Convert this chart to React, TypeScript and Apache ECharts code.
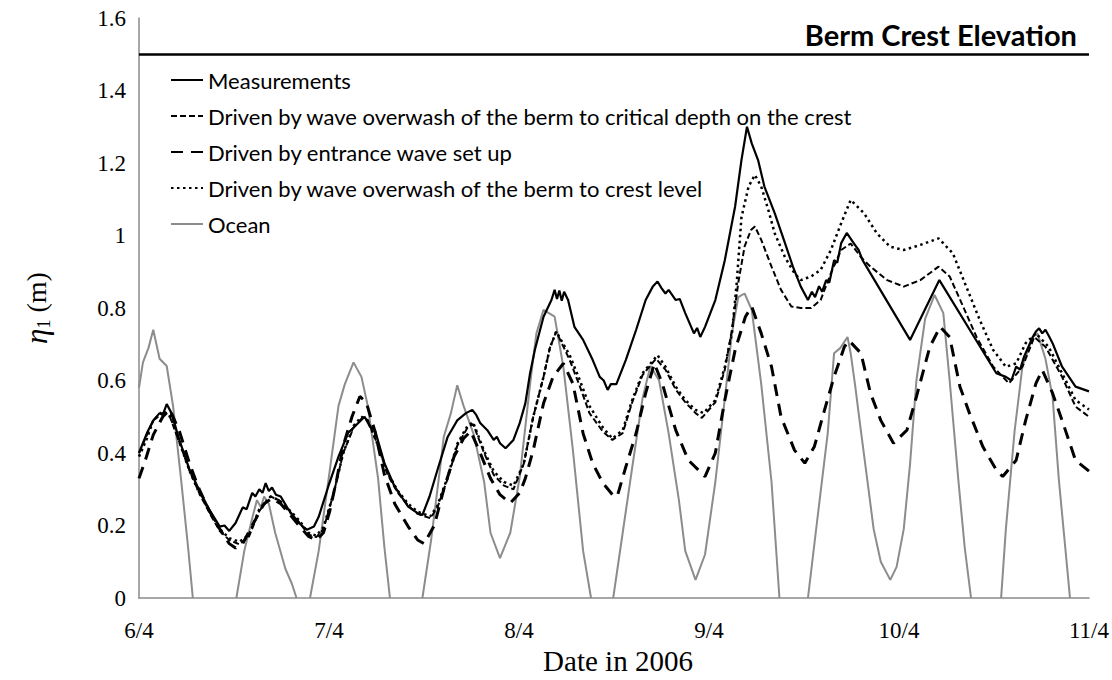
import React, { useEffect, useRef } from "react";
import * as echarts from "echarts";

// x values are hours from 6/4 00:00 (2006)
const dayLabels = ["6/4", "7/4", "8/4", "9/4", "10/4", "11/4"];
const yTicks = [0, 0.2, 0.4, 0.6, 0.8, 1, 1.2, 1.4, 1.6];
const bermCrest = 1.5;

const seriesNames = [
  "Measurements",
  "Driven by wave overwash of the berm to critical depth on the crest",
  "Driven by entrance wave set up",
  "Driven by wave overwash of the berm to crest level",
  "Ocean",
];

const measured = [
  [0, 0.4], [1.0, 0.455], [1.8, 0.49], [2.6, 0.51], [3.0, 0.505], [3.5, 0.535], [4.1, 0.51], [5.1, 0.436], [6.4, 0.353],
  [7.6, 0.298], [8.9, 0.243], [10.2, 0.197], [10.8, 0.2], [11.4, 0.185], [12.2, 0.207], [13.1, 0.25], [13.6, 0.245], [14.3, 0.29],
  [14.7, 0.28], [15.2, 0.3], [15.6, 0.29], [16.0, 0.317], [16.4, 0.295], [16.8, 0.305], [17.3, 0.285], [17.9, 0.28], [18.9, 0.243], [20.2, 0.207], [21.2, 0.188],
  [22.1, 0.197], [22.7, 0.224], [23.9, 0.307], [25.2, 0.39], [26.4, 0.455], [27.7, 0.483], [28.5, 0.5],
  [29.2, 0.472], [29.8, 0.463], [31.0, 0.372], [32.3, 0.307], [34.0, 0.252], [35.2, 0.234], [35.8, 0.229],
  [36.7, 0.28], [37.7, 0.353], [39.0, 0.445], [40.2, 0.49], [41.3, 0.51], [42.1, 0.519], [42.6, 0.505], [43.1, 0.483],
  [44.0, 0.463], [44.8, 0.436], [45.2, 0.445], [45.6, 0.427], [46.3, 0.413], [47.3, 0.436], [48.1, 0.483], [48.8, 0.537],
  [49.4, 0.62], [50.0, 0.684], [51.1, 0.776], [52.1, 0.822], [52.5, 0.85], [52.8, 0.825], [53.1, 0.848], [53.4, 0.82],
  [53.7, 0.845], [54.2, 0.822], [55.0, 0.748], [56.1, 0.712], [57.3, 0.657], [58.2, 0.61], [58.7, 0.6], [59.2, 0.574],
  [59.6, 0.59], [60.3, 0.59], [61.5, 0.657], [62.8, 0.74], [64.0, 0.822], [64.9, 0.859], [65.5, 0.873], [66.0, 0.855],
  [66.5, 0.84], [66.9, 0.85], [67.8, 0.822], [68.3, 0.825], [69.0, 0.786], [70.1, 0.73], [70.5, 0.745], [70.9, 0.72], [71.5, 0.748],
  [72.8, 0.822], [74.0, 0.932], [75.3, 1.08], [76.1, 1.208], [76.8, 1.3], [77.4, 1.254], [78.2, 1.208], [79.0, 1.135],
  [80.3, 1.062], [81.6, 0.979], [82.6, 0.914], [83.6, 0.859], [84.5, 0.822], [85.0, 0.845], [85.4, 0.83], [85.9, 0.86],
  [86.3, 0.845], [86.8, 0.877], [87.2, 0.87], [87.8, 0.932], [88.2, 0.925], [88.7, 0.979], [89.4, 1.007],
  [90.3, 0.978], [90.9, 0.96], [91.4, 0.932], [97.4, 0.712], [101.1, 0.877], [108.3, 0.62], [109.5, 0.61],
  [110.2, 0.6], [110.8, 0.638], [111.3, 0.63], [111.8, 0.666], [112.9, 0.72], [113.3, 0.735], [113.7, 0.744], [114.1, 0.73],
  [114.5, 0.74], [115.0, 0.72], [115.4, 0.703], [116.6, 0.638], [118.3, 0.583], [120, 0.57],
];

const criticalDepth = [
  [0, 0.4], [1.0, 0.45], [1.8, 0.49], [3.0, 0.51], [3.9, 0.5], [5.1, 0.43], [6.4, 0.35], [7.6, 0.29],
  [8.9, 0.235], [10.2, 0.185], [11.4, 0.16], [12.7, 0.148], [13.9, 0.17], [15.2, 0.24], [16.6, 0.28],
  [17.7, 0.27], [18.9, 0.24], [20.2, 0.21], [21.4, 0.175], [22.4, 0.168], [23.3, 0.19], [24.6, 0.29],
  [25.8, 0.4], [27.1, 0.47], [28.1, 0.495], [28.9, 0.49], [30.2, 0.42], [31.4, 0.34], [32.7, 0.29],
  [34.0, 0.255], [35.2, 0.232], [36.8, 0.22], [37.7, 0.25], [39.0, 0.33], [40.2, 0.42], [41.5, 0.47],
  [42.2, 0.48], [43.6, 0.4], [44.8, 0.34], [46.1, 0.31], [47.3, 0.3], [48.6, 0.37], [49.8, 0.5],
  [51.1, 0.61], [51.9, 0.69], [52.7, 0.735], [54.4, 0.657], [55.7, 0.583], [56.9, 0.51], [58.6, 0.459],
  [59.8, 0.436], [61.1, 0.455], [62.3, 0.54], [63.6, 0.615], [65.3, 0.66], [66.5, 0.63], [67.8, 0.575],
  [69.0, 0.54], [70.3, 0.51], [71.1, 0.497], [72.8, 0.54], [74.0, 0.63], [74.9, 0.74], [75.7, 0.87],
  [76.5, 0.97], [77.3, 1.015], [77.8, 1.025], [78.6, 0.988], [79.9, 0.914], [81.1, 0.85], [82.4, 0.804],
  [83.6, 0.8], [84.9, 0.8], [86.1, 0.822], [87.4, 0.896], [88.7, 0.96], [89.9, 0.978], [91.2, 0.94],
  [92.4, 0.914], [94.5, 0.877], [96.6, 0.859], [98.7, 0.877], [101.0, 0.914], [102.4, 0.887], [104.1, 0.804],
  [105.8, 0.72], [107.9, 0.638], [109.9, 0.592], [111.6, 0.638], [113.1, 0.72], [114.5, 0.693],
  [116.6, 0.61], [118.3, 0.528], [120, 0.5],
];

const entranceSetUp = [
  [0, 0.33], [0.8, 0.38], [1.8, 0.45], [3.0, 0.5], [3.9, 0.52], [5.1, 0.46], [6.4, 0.37], [7.6, 0.3],
  [8.9, 0.24], [10.2, 0.19], [11.4, 0.15], [12.2, 0.138], [13.1, 0.15], [14.3, 0.2], [15.8, 0.26],
  [16.8, 0.275], [17.9, 0.26], [18.9, 0.235], [20.2, 0.2], [21.4, 0.17], [22.4, 0.16], [23.3, 0.18],
  [24.1, 0.24], [25.0, 0.33], [25.8, 0.42], [26.9, 0.5], [27.9, 0.556], [28.7, 0.54], [29.8, 0.46],
  [31.0, 0.34], [32.3, 0.26], [34.0, 0.197], [35.2, 0.16], [36.0, 0.15], [37.3, 0.2], [38.5, 0.3],
  [39.8, 0.39], [41.0, 0.44], [41.9, 0.46], [43.1, 0.4], [44.4, 0.33], [45.6, 0.285], [46.9, 0.262],
  [48.1, 0.29], [48.8, 0.33], [49.8, 0.408], [51.1, 0.537], [52.3, 0.61], [53.6, 0.647], [54.8, 0.592],
  [56.1, 0.454], [57.3, 0.372], [58.6, 0.317], [59.8, 0.285], [60.4, 0.28], [61.5, 0.362], [62.8, 0.455],
  [64.0, 0.565], [65.1, 0.647], [66.1, 0.592], [67.8, 0.463], [69.4, 0.38], [71.5, 0.335], [72.8, 0.4],
  [74.0, 0.546], [75.3, 0.684], [76.6, 0.776], [77.4, 0.804], [78.6, 0.73], [79.9, 0.638], [81.1, 0.5],
  [82.8, 0.408], [84.1, 0.372], [85.3, 0.417], [86.6, 0.519], [87.8, 0.61], [89.1, 0.693], [89.7, 0.71],
  [91.2, 0.675], [92.4, 0.565], [93.7, 0.49], [95.3, 0.427], [97.0, 0.463], [98.2, 0.555], [99.9, 0.693],
  [101.2, 0.748], [102.4, 0.72], [103.7, 0.583], [104.9, 0.51], [106.6, 0.417], [108.3, 0.353],
  [109.1, 0.335], [110.8, 0.38], [112.0, 0.49], [113.3, 0.592], [114.1, 0.629], [115.4, 0.565],
  [116.6, 0.49], [118.3, 0.38], [120, 0.35],
];

const crestLevel = [
  [0, 0.39], [1.0, 0.44], [1.8, 0.49], [3.0, 0.515], [3.9, 0.505], [5.1, 0.43], [6.4, 0.35], [7.6, 0.29],
  [8.9, 0.24], [10.2, 0.19], [11.4, 0.165], [12.7, 0.155], [13.9, 0.175], [15.2, 0.245], [16.6, 0.28],
  [17.7, 0.27], [18.9, 0.245], [20.2, 0.215], [21.4, 0.18], [22.4, 0.172], [23.3, 0.195], [24.6, 0.29],
  [25.8, 0.4], [27.1, 0.475], [28.1, 0.5], [28.9, 0.49], [30.2, 0.42], [31.4, 0.345], [32.7, 0.295],
  [34.0, 0.26], [35.2, 0.238], [36.8, 0.225], [37.7, 0.255], [39.0, 0.335], [40.2, 0.425], [41.5, 0.475],
  [42.2, 0.485], [43.6, 0.405], [44.8, 0.35], [46.1, 0.32], [47.3, 0.31], [48.6, 0.37], [49.8, 0.5],
  [51.1, 0.61], [51.9, 0.69], [52.7, 0.735], [54.4, 0.67], [55.7, 0.6], [56.9, 0.53], [58.6, 0.47],
  [59.8, 0.44], [61.1, 0.463], [62.3, 0.546], [63.6, 0.62], [65.5, 0.67], [66.5, 0.638], [67.8, 0.583],
  [69.0, 0.546], [70.3, 0.519], [71.3, 0.51], [72.8, 0.546], [74.0, 0.638], [74.9, 0.73], [75.5, 0.868],
  [76.1, 1.05], [77.0, 1.135], [77.8, 1.167], [78.6, 1.135], [79.5, 1.07], [80.3, 1.006], [81.6, 0.94],
  [82.8, 0.896], [83.6, 0.877], [84.9, 0.887], [86.1, 0.905], [87.4, 0.96], [88.7, 1.034], [89.9, 1.098],
  [91.6, 1.061], [93.2, 1.006], [94.9, 0.969], [96.6, 0.96], [98.7, 0.974], [101.0, 0.992], [102.8, 0.951],
  [104.5, 0.859], [106.2, 0.767], [107.9, 0.684], [109.5, 0.638], [110.8, 0.647], [112.0, 0.703],
  [113.3, 0.73], [114.9, 0.693], [116.6, 0.62], [118.3, 0.546], [120, 0.52],
];

// below-zero stretches of the tide are off the axis (null = gap)
const ocean = [
  [0, 0.58], [0.5, 0.65], [1.2, 0.69], [1.8, 0.74], [2.6, 0.66], [3.5, 0.64], [4.3, 0.53], [5.3, 0.33],
  [6.2, 0.14], [6.8, 0], [9.5, null], [12.3, 0], [13.3, 0.13], [14.3, 0.22], [14.9, 0.27], [15.4, 0.25],
  [15.8, 0.28], [16.4, 0.26], [17.2, 0.18], [18.5, 0.08], [19.3, 0.04], [19.9, 0], [20.8, null], [21.6, 0],
  [22.7, 0.13], [23.9, 0.32], [25.2, 0.53], [26.0, 0.59], [27.1, 0.65], [28.1, 0.61], [28.9, 0.53],
  [30.2, 0.33], [31.0, 0.14], [31.7, 0], [33.5, null], [35.8, 0], [36.9, 0.16], [38.1, 0.37], [38.5, 0.445],
  [39.4, 0.51], [40.2, 0.587], [41.0, 0.53], [42.3, 0.45], [43.6, 0.32], [44.4, 0.18], [45.6, 0.11],
  [46.9, 0.18], [48.1, 0.335], [49.4, 0.59], [50.2, 0.73], [51.1, 0.795], [52.5, 0.776], [53.6, 0.638],
  [54.8, 0.41], [56.1, 0.13], [57.1, 0], [58.5, null], [59.9, 0], [61.1, 0.18], [62.3, 0.36], [63.6, 0.55],
  [64.6, 0.64], [65.7, 0.6], [66.9, 0.455], [68.2, 0.27], [69.0, 0.13], [70.3, 0.05], [71.5, 0.12],
  [72.8, 0.32], [74.0, 0.55], [74.9, 0.73], [75.7, 0.83], [76.5, 0.84], [77.4, 0.795], [78.6, 0.59],
  [79.9, 0.32], [80.9, 0], [82.7, null], [84.5, 0], [85.7, 0.22], [87.0, 0.455], [87.8, 0.675],
  [88.6, 0.69], [89.5, 0.72], [89.9, 0.675], [90.5, 0.58], [90.9, 0.51], [92.0, 0.325], [92.8, 0.19],
  [93.7, 0.1], [94.9, 0.05], [95.7, 0.086], [96.6, 0.19], [97.4, 0.37], [98.2, 0.6], [99.3, 0.77],
  [100.5, 0.836], [101.6, 0.786], [102.4, 0.6], [103.5, 0.325], [104.3, 0.14], [105.1, 0], [107, null],
  [108.9, 0], [109.5, 0.19], [110.6, 0.46], [111.6, 0.64], [112.9, 0.72], [113.5, 0.73], [114.5, 0.66],
  [115.4, 0.555], [116.2, 0.325], [117.0, 0.14], [117.6, 0],
];

export default function App() {
  const ref = useRef<HTMLDivElement>(null);

  useEffect(() => {
    if (!ref.current) return;
    const chart = echarts.init(ref.current, null, { renderer: "svg" });
    const serif = '"Liberation Serif", "Times New Roman", serif';
    const sans = 'Lato, "Open Sans", sans-serif';
    const noIcon = { color: "rgba(0,0,0,0)", borderWidth: 0, opacity: 0 };
    chart.setOption({
      animation: false,
      backgroundColor: "#fff",
      grid: { left: 139, right: 15, top: 18, bottom: 82, containLabel: false },
      xAxis: {
        type: "value",
        min: 0,
        max: 120,
        interval: 24,
        axisLine: { show: true, lineStyle: { color: "#8a8a8a", width: 1.5 } },
        axisTick: { show: false },
        splitLine: { show: false },
        axisLabel: {
          margin: 21,
          color: "#000",
          fontFamily: serif,
          fontSize: 23,
          formatter: (v: number) => dayLabels[Math.round(v / 24)] ?? "",
        },
      },
      yAxis: {
        type: "value",
        min: yTicks[0],
        max: yTicks[yTicks.length - 1],
        interval: 0.2,
        axisLine: { show: true, lineStyle: { color: "#8a8a8a", width: 1.5 } },
        axisTick: { show: false },
        splitLine: { show: false },
        axisLabel: {
          margin: 13,
          color: "#000",
          fontFamily: serif,
          fontSize: 23,
          formatter: (v: number) => String(Math.round(v * 10) / 10),
        },
      },
      legend: {
        orient: "vertical",
        left: 170,
        top: 68,
        padding: 0,
        itemWidth: 32,
        itemHeight: 14,
        itemGap: 12,
        itemStyle: noIcon,
        data: seriesNames,
        textStyle: { fontFamily: sans, fontSize: 22, color: "#000", lineHeight: 24 },
      },
      graphic: [
        {
          type: "text",
          x: 618,
          y: 661,
          style: {
            text: "Date in 2006",
            fontFamily: serif,
            fontSize: 29,
            fill: "#000",
            align: "center",
            verticalAlign: "middle",
          },
        },
        {
          type: "text",
          x: 36,
          y: 308,
          rotation: Math.PI / 2,
          style: {
            text: "{i|η}{s|1}{n| (m)}",
            align: "center",
            verticalAlign: "middle",
            fill: "#000",
            rich: {
              i: { fontFamily: serif, fontStyle: "italic", fontSize: 31, lineHeight: 34, fill: "#000" },
              s: { fontFamily: serif, fontSize: 18, lineHeight: 34, verticalAlign: "bottom", padding: [14, 0, 0, 0], fill: "#000" },
              n: { fontFamily: serif, fontSize: 28, lineHeight: 34, fill: "#000" },
            },
          },
        },
      ],
      series: [
        {
          name: seriesNames[4],
          type: "line",
          data: ocean,
          showSymbol: false,
          symbol: "none",
          connectNulls: false,
          lineStyle: { color: "#8c8c8c", width: 2 },
          itemStyle: { color: "#8c8c8c" },
          z: 1,
        },
        {
          name: seriesNames[2],
          type: "line",
          data: entranceSetUp,
          showSymbol: false,
          symbol: "none",
          lineStyle: { color: "#000", width: 3, type: [12, 8] },
          itemStyle: { color: "#000" },
          z: 2,
        },
        {
          name: seriesNames[3],
          type: "line",
          data: crestLevel,
          showSymbol: false,
          symbol: "none",
          lineStyle: { color: "#000", width: 2.5, type: [2.5, 3.5] },
          itemStyle: { color: "#000" },
          z: 3,
        },
        {
          name: seriesNames[1],
          type: "line",
          data: criticalDepth,
          showSymbol: false,
          symbol: "none",
          lineStyle: { color: "#000", width: 2, type: [6, 3] },
          itemStyle: { color: "#000" },
          z: 4,
        },
        {
          name: seriesNames[0],
          type: "line",
          data: measured,
          showSymbol: false,
          symbol: "none",
          lineStyle: { color: "#000", width: 2.2 },
          itemStyle: { color: "#000" },
          z: 5,
          markLine: {
            silent: true,
            symbol: "none",
            animation: false,
            lineStyle: { color: "#000", width: 2.5, type: "solid" },
            label: {
              show: true,
              position: "insideEndTop",
              distance: [12, 5],
              formatter: "Berm Crest Elevation",
              fontFamily: sans,
              fontWeight: "bold",
              fontSize: 29,
              color: "#000",
            },
            data: [{ yAxis: bermCrest }],
          },
        },
      ],
    });
    return () => chart.dispose();
  }, []);

  return (
    <div
      ref={ref}
      style={{ position: "fixed", left: 0, top: 0, width: 1112, height: 680, background: "#fff" }}
    />
  );
}
